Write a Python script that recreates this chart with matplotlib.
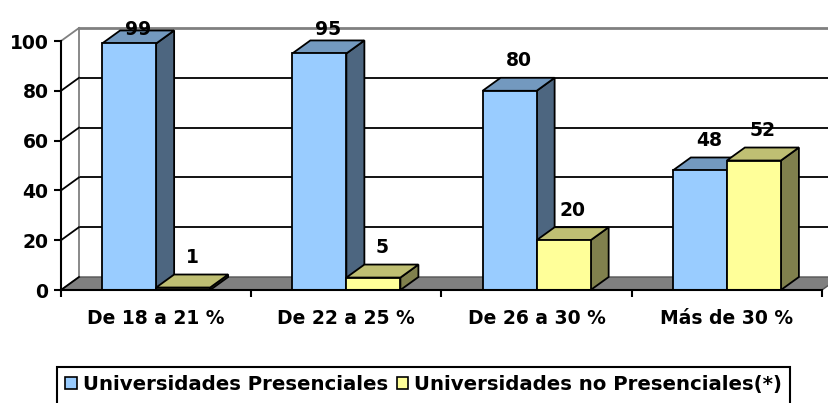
import matplotlib
matplotlib.use('Agg')
import matplotlib.pyplot as plt
from matplotlib.patches import Polygon, Patch, Rectangle

plt.rcParams['font.family'] = ['DejaVu Sans']
plt.rcParams['font.weight'] = 'bold'

categories = ['De 18 a 21 %', 'De 22 a 25 %', 'De 26 a 30 %', 'Más de 30 %']
presenciales = [99, 95, 80, 48]
no_presenciales = [1, 5, 20, 52]
series_names = ['Universidades Presenciales', 'Universidades no Presenciales(*)']
y_ticks = [0, 20, 40, 60, 80, 100]

blue = ('#99CCFF', '#7399BF', '#4D6680')     # front, top, side
yellow = ('#FFFF99', '#BFBF73', '#80804D')

W, H = 829, 403
FS = 13.5
fig = plt.figure(figsize=(W / 100, H / 100), dpi=100)
ax = fig.add_axes([61 / W, (H - 290) / H, 761 / W, 249 / H])
ax.set_xlim(0, 4)
ax.set_ylim(0, 100)

# 3d depth offset in data units (18 px right, 13 px up)
dx = 18 / 190.25
dy = 13 / 2.49
bar_w = 0.284
n = len(categories)


def poly(pts, fc, ec='black', lw=1.3, z=3):
    ax.add_patch(Polygon(pts, closed=True, facecolor=fc, edgecolor=ec,
                         linewidth=lw, zorder=z, clip_on=False,
                         joinstyle='miter'))


# floor
poly([(0, 0), (n, 0), (n + dx, dy), (dx, dy)], '#808080', ec='#555555', lw=1.0, z=1)

# back wall grid lines and side wall diagonals
for v in y_ticks[1:]:
    c = '#808080' if v == y_ticks[-1] else 'black'
    lw = 2.0 if v == y_ticks[-1] else 1.3
    ax.plot([dx, n + dx], [v + dy, v + dy], color=c, lw=lw, zorder=1, clip_on=False)
for v in y_ticks:
    c = '#808080' if v == y_ticks[-1] else 'black'
    ax.plot([0, dx], [v, v + dy], color=c, lw=1.3, zorder=2, clip_on=False)
ax.plot([dx, dx], [dy, y_ticks[-1] + dy], color='#808080', lw=1.3, zorder=1, clip_on=False)


def bar3d(x0, v, colors):
    x1 = x0 + bar_w
    front, top, side = colors
    poly([(x1, 0), (x1 + dx, dy), (x1 + dx, v + dy), (x1, v)], side)
    poly([(x0, v), (x1, v), (x1 + dx, v + dy), (x0 + dx, v + dy)], top)
    poly([(x0, 0), (x1, 0), (x1, v), (x0, v)], front)


for i in range(n):
    c = i + 0.5
    for k, (vals, cols) in enumerate([(presenciales, blue), (no_presenciales, yellow)]):
        x0 = c - bar_w + k * bar_w
        bar3d(x0, vals[i], cols)
        ty = min(vals[i] + dy + 3, 101)
        ax.text(x0 + bar_w / 2 + dx / 2, ty, str(vals[i]), ha='center', va='bottom',
                fontsize=FS, fontweight='bold', zorder=5)

# axes
for s in ['top', 'right']:
    ax.spines[s].set_visible(False)
for s in ['left', 'bottom']:
    ax.spines[s].set_linewidth(1.5)
    ax.spines[s].set_zorder(4)
ax.set_yticks(y_ticks)
ax.set_yticklabels([str(v) for v in y_ticks], fontsize=FS, fontweight='bold')
ax.set_xticks(range(n + 1))
ax.set_xticklabels([])
ax.set_xticks([i + 0.5 for i in range(n)], minor=True)
ax.set_xticklabels(categories, minor=True, fontsize=FS, fontweight='bold')
ax.tick_params(axis='both', which='major', direction='out', length=5, width=1.5)
ax.tick_params(axis='y', pad=4)
ax.tick_params(axis='x', which='minor', length=0, pad=14)

handles = [Patch(facecolor=blue[0], edgecolor='black', lw=1.2),
           Patch(facecolor=yellow[0], edgecolor='black', lw=1.2)]
leg = fig.legend(handles, series_names, loc='upper left',
                 bbox_to_anchor=(57 / W, 1 - 367 / H), ncol=2, frameon=False,
                 borderaxespad=0,
                 handlelength=0.6, handleheight=0.6, handletextpad=0.3,
                 columnspacing=0.45, borderpad=0.4,
                 prop={'size': 14.2, 'weight': 'bold'})

# legend box: open at the bottom edge of the picture, as in the original
fig.canvas.draw()
bb = leg.get_window_extent()
fig.patches.append(Rectangle((bb.x0, bb.y0 - 20), bb.width, bb.height + 20,
                             transform=None, fill=False, edgecolor='black',
                             linewidth=1.5, figure=fig))

fig.savefig('out.png', dpi=100)
